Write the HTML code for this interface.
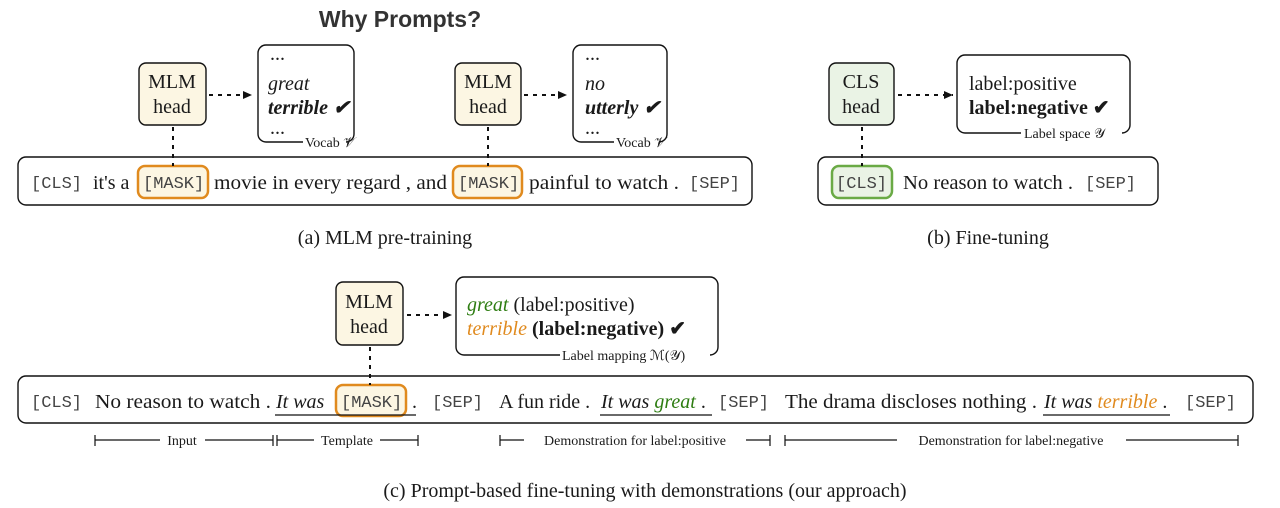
<!DOCTYPE html>
<html><head><meta charset="utf-8"><style>
html,body{margin:0;padding:0;background:#fff;}
svg{display:block}
.s{font-family:"Liberation Serif",serif;font-size:20px;fill:#1a1a1a}
.m{font-family:"Liberation Mono",monospace;font-size:17px;fill:#444}
.sm{font-family:"Liberation Serif",serif;font-size:14px;fill:#1a1a1a}
.cap{font-family:"Liberation Serif",serif;font-size:20px;fill:#1a1a1a}
</style></head><body>
<svg width="1280" height="508" viewBox="0 0 1280 508" xmlns="http://www.w3.org/2000/svg">
<defs><marker id="ar" markerUnits="userSpaceOnUse" markerWidth="10" markerHeight="10" refX="9" refY="5" orient="auto"><path d="M0,1 L9,5 L0,9z" fill="#111"/></marker></defs>
<text x="400" y="27" text-anchor="middle" font-family="Liberation Sans,sans-serif" font-weight="bold" font-size="23" fill="#333">Why Prompts?</text>
<g fill="none" stroke="#111" stroke-width="1.4">
<rect x="139" y="63" width="67" height="62" rx="7" fill="#fcf6e3"/>
<rect x="258" y="45" width="96" height="97" rx="8"/>
<rect x="455" y="63" width="66" height="62" rx="7" fill="#fcf6e3"/>
<rect x="573" y="45" width="94" height="97" rx="8"/>
<rect x="18" y="157" width="734" height="48" rx="8"/>
<rect x="829" y="63" width="65" height="62" rx="7" fill="#eaf3e5"/>
<rect x="957" y="55" width="173" height="78" rx="8"/>
<rect x="818" y="157" width="340" height="48" rx="8"/>
<rect x="336" y="282" width="67" height="63" rx="7" fill="#fcf6e3"/>
<rect x="456" y="277" width="262" height="78" rx="8"/>
<rect x="18" y="376" width="1235" height="47" rx="8"/>
</g>
<g fill="none" stroke-width="2.5">
<rect x="138" y="166" width="70" height="32" rx="7" stroke="#e08a1e" fill="#fcf6e3"/>
<rect x="453" y="166" width="69" height="32" rx="7" stroke="#e08a1e" fill="#fcf6e3"/>
<rect x="832" y="166" width="60" height="32" rx="7" stroke="#6aaa45" fill="#eaf3e5"/>
<rect x="336" y="385" width="70" height="31" rx="7" stroke="#e08a1e" fill="#fcf6e3"/>
</g>
<!-- label gaps -->
<rect x="303" y="139" width="43" height="6" fill="#fff"/>
<rect x="614" y="139" width="45" height="6" fill="#fff"/>
<rect x="1021" y="130" width="101" height="6" fill="#fff"/>
<rect x="560" y="352" width="150" height="6" fill="#fff"/>
<g stroke="#111" stroke-width="2" stroke-dasharray="4,5" fill="none">
<line x1="209" y1="95" x2="252" y2="95" marker-end="url(#ar)"/>
<line x1="524" y1="95" x2="567" y2="95" marker-end="url(#ar)"/>
<line x1="898" y1="95" x2="953" y2="95" marker-end="url(#ar)"/>
<line x1="407" y1="315" x2="452" y2="315" marker-end="url(#ar)"/>
<line x1="173" y1="127" x2="173" y2="166"/>
<line x1="488" y1="127" x2="488" y2="166"/>
<line x1="862" y1="127" x2="862" y2="166"/>
<line x1="370" y1="347" x2="370" y2="385"/>
</g>
<g class="s" text-anchor="middle">
<text x="172" y="88">MLM</text><text x="172" y="113">head</text>
<text x="488" y="88">MLM</text><text x="488" y="113">head</text>
<text x="861" y="88">CLS</text><text x="861" y="113">head</text>
<text x="369" y="308">MLM</text><text x="369" y="333">head</text>
</g>
<g class="s">
<text x="270" y="60">...</text>
<text x="268" y="90" font-style="italic">great</text>
<text x="268" y="114" font-style="italic" font-weight="bold">terrible ✔</text>
<text x="270" y="134">...</text>
<text x="585" y="60">...</text>
<text x="585" y="90" font-style="italic">no</text>
<text x="585" y="114" font-style="italic" font-weight="bold">utterly ✔</text>
<text x="585" y="134">...</text>
<text x="969" y="90">label:positive</text>
<text x="969" y="114" font-weight="bold">label:negative ✔</text>
<text x="467" y="311"><tspan fill="#2e7d12" font-style="italic">great</tspan> (label:positive)</text>
<text x="467" y="335"><tspan fill="#e08a1e" font-style="italic">terrible</tspan> <tspan font-weight="bold">(label:negative) ✔</tspan></text>
</g>
<g class="sm">
<text x="305" y="147">Vocab 𝒱</text>
<text x="616" y="147">Vocab 𝒱</text>
<text x="1024" y="138">Label space 𝒴</text>
<text x="562" y="360">Label mapping  ℳ(𝒴)</text>
</g>
<!-- sentence a -->
<text class="m" x="31" y="188">[CLS]</text>
<text class="s" x="93" y="189">it's a</text>
<text class="m" x="143" y="188">[MASK]</text>
<text class="s" x="214" y="189" textLength="233" lengthAdjust="spacingAndGlyphs">movie in every regard , and</text>
<text class="m" x="458" y="188">[MASK]</text>
<text class="s" x="529" y="189" textLength="150" lengthAdjust="spacingAndGlyphs">painful to watch .</text>
<text class="m" x="689" y="188">[SEP]</text>
<!-- sentence b -->
<text class="m" x="836" y="188">[CLS]</text>
<text class="s" x="903" y="189" textLength="170" lengthAdjust="spacingAndGlyphs">No reason to watch .</text>
<text class="m" x="1085" y="188">[SEP]</text>
<!-- sentence c -->
<text class="m" x="31" y="407">[CLS]</text>
<text class="s" x="95" y="408" textLength="176" lengthAdjust="spacingAndGlyphs">No reason to watch .</text>
<text class="s" x="276" y="408" font-style="italic">It was</text>
<text class="m" x="341" y="407">[MASK]</text>
<text class="s" x="412" y="408">.</text>
<text class="m" x="432" y="407">[SEP]</text>
<text class="s" x="499" y="408">A fun ride .</text>
<text class="s" x="601" y="408"><tspan font-style="italic">It was </tspan><tspan font-style="italic" fill="#2e7d12">great</tspan> .</text>
<text class="m" x="718" y="407">[SEP]</text>
<text class="s" x="785" y="408" textLength="252" lengthAdjust="spacingAndGlyphs">The drama discloses nothing .</text>
<text class="s" x="1044" y="408"><tspan font-style="italic">It was </tspan><tspan font-style="italic" fill="#e08a1e">terrible</tspan> .</text>
<text class="m" x="1185" y="407">[SEP]</text>
<g stroke="#111" stroke-width="1.2">
<line x1="275" y1="415" x2="416" y2="415"/>
<line x1="600" y1="415" x2="712" y2="415"/>
<line x1="1043" y1="415" x2="1170" y2="415"/>
</g>
<g stroke="#111" stroke-width="1.2">
<line x1="95" y1="435" x2="95" y2="446"/><line x1="273" y1="435" x2="273" y2="446"/>
<line x1="95" y1="440" x2="160" y2="440"/><line x1="205" y1="440" x2="273" y2="440"/>
<line x1="277" y1="435" x2="277" y2="446"/><line x1="418" y1="435" x2="418" y2="446"/>
<line x1="277" y1="440" x2="314" y2="440"/><line x1="380" y1="440" x2="418" y2="440"/>
<line x1="500" y1="435" x2="500" y2="446"/><line x1="770" y1="435" x2="770" y2="446"/>
<line x1="500" y1="440" x2="524" y2="440"/><line x1="746" y1="440" x2="770" y2="440"/>
<line x1="785" y1="435" x2="785" y2="446"/><line x1="1238" y1="435" x2="1238" y2="446"/>
<line x1="785" y1="440" x2="897" y2="440"/><line x1="1126" y1="440" x2="1238" y2="440"/>
</g>
<g class="sm" text-anchor="middle">
<text x="182" y="445">Input</text>
<text x="347" y="445">Template</text>
<text x="635" y="445">Demonstration for label:positive</text>
<text x="1011" y="445">Demonstration for label:negative</text>
</g>
<g class="cap" text-anchor="middle">
<text x="385" y="244">(a) MLM pre-training</text>
<text x="988" y="244">(b) Fine-tuning</text>
<text x="645" y="497">(c) Prompt-based fine-tuning with demonstrations (our approach)</text>
</g>
</svg>
</body></html>
